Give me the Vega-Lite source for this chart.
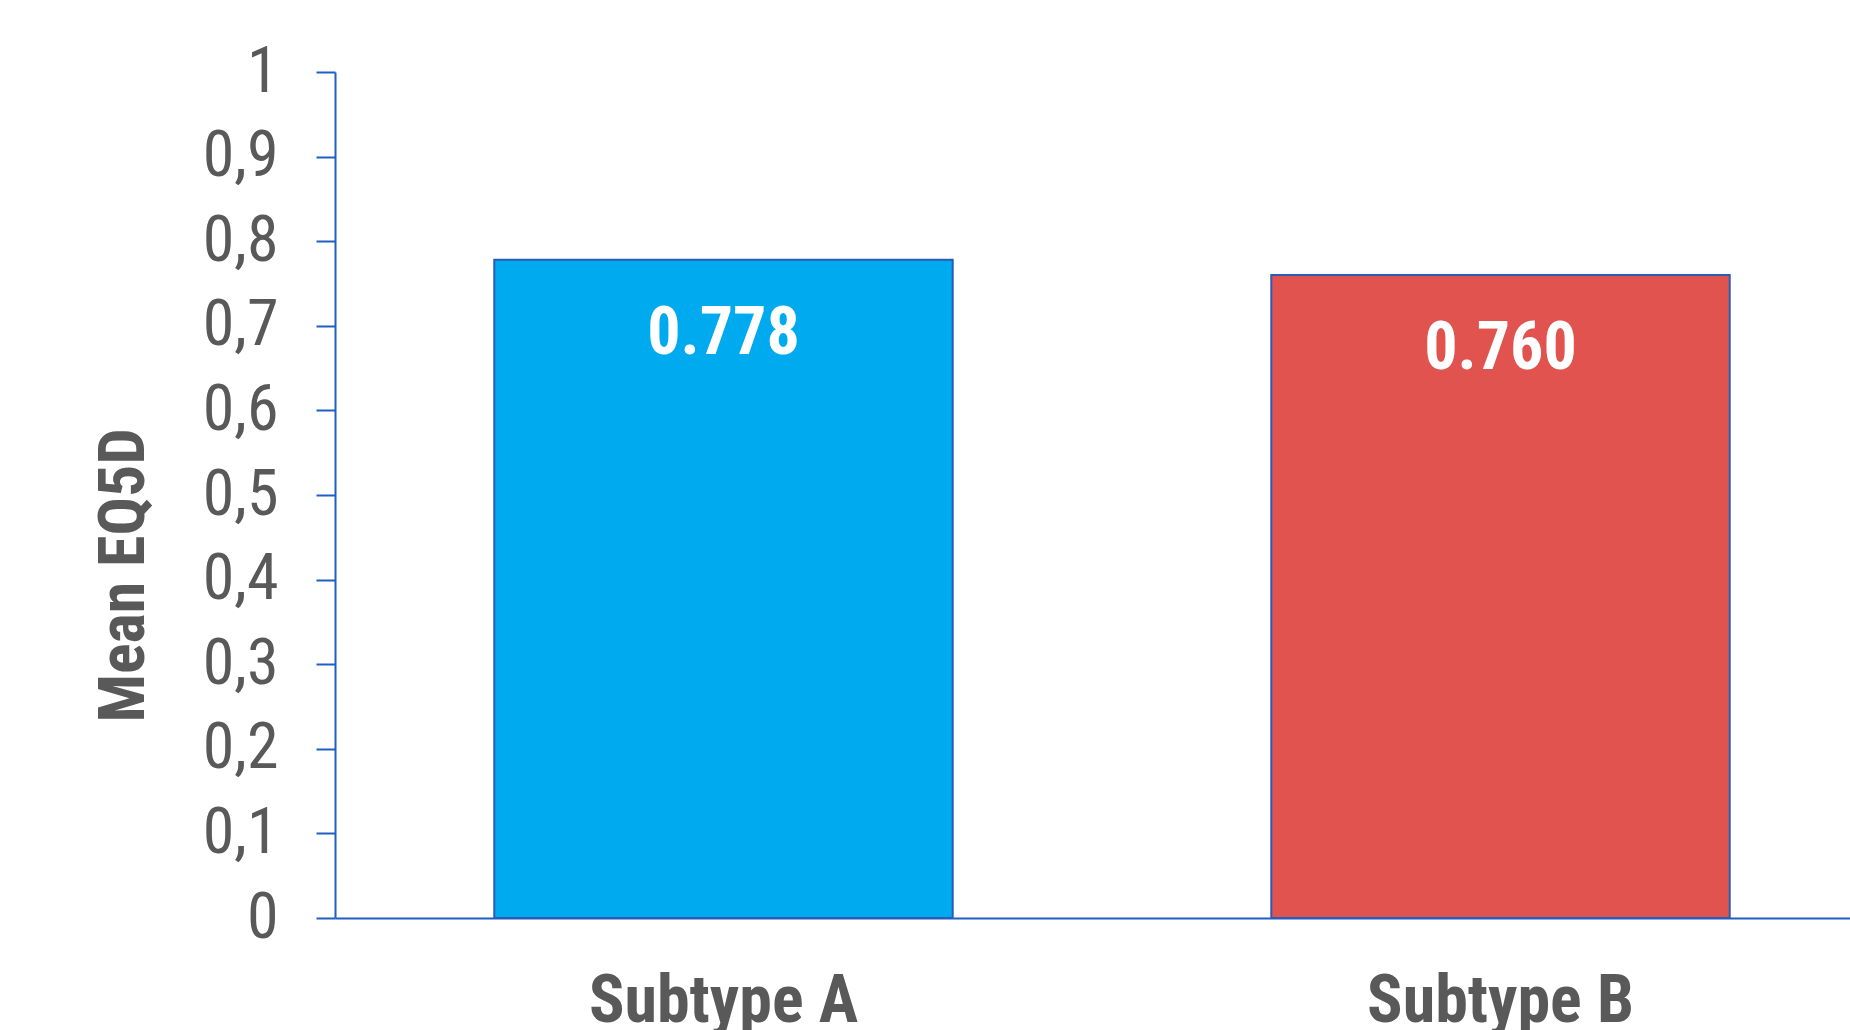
{
  "$schema": "https://vega.github.io/schema/vega-lite/v6.json",
  "autosize": {"type": "none"},
  "padding": {"left": 335, "top": 72, "right": 0, "bottom": 112},
  "width": 1515,
  "height": 846,
  "background": "white",
  "config": {
    "view": {"stroke": null},
    "font": "Roboto Condensed"
  },
  "data": {
    "values": [
      {"group": "Subtype A", "eq5d": 0.778, "label": "0.778"},
      {"group": "Subtype B", "eq5d": 0.760, "label": "0.760"}
    ]
  },
  "encoding": {
    "x": {
      "field": "group",
      "type": "nominal",
      "sort": null,
      "scale": {"range": [0, 1554], "paddingInner": 0.41, "paddingOuter": 0.205},
      "axis": {
        "title": null,
        "domainColor": "#1F5FC4",
        "domainWidth": 2,
        "ticks": false,
        "tickSize": 0,
        "labelAngle": 0,
        "labelLimit": 0,
        "labelFont": "Roboto Condensed",
        "labelFontWeight": "bold",
        "labelFontSize": 66,
        "labelColor": "#595959",
        "labelBaseline": "alphabetic",
        "labelPadding": 103
      }
    },
    "y": {
      "field": "eq5d",
      "type": "quantitative",
      "scale": {"domain": [0, 1], "nice": false, "zero": true},
      "axis": {
        "title": "Mean EQ5D",
        "values": [0, 0.1, 0.2, 0.3, 0.4, 0.5, 0.6, 0.7, 0.8, 0.9, 1],
        "format": "~g",
        "labelExpr": "replace(datum.label, '.', ',')",
        "grid": false,
        "domainColor": "#1F5FC4",
        "domainWidth": 2,
        "tickColor": "#1F5FC4",
        "tickWidth": 2,
        "tickSize": 19,
        "labelPadding": 38,
        "labelLimit": 0,
        "labelFont": "Roboto Condensed",
        "labelFontSize": 64,
        "labelColor": "#595959",
        "labelBaseline": "middle",
        "titleFont": "Roboto Condensed",
        "titleFontWeight": "bold",
        "titleFontSize": 64,
        "titleColor": "#595959",
        "titleAngle": -90,
        "titleAlign": "center",
        "titleBaseline": "alphabetic",
        "titleLimit": 0,
        "titleX": -192,
        "titleY": 503
      }
    }
  },
  "layer": [
    {
      "mark": {"type": "bar", "stroke": "#2A5BB8", "strokeWidth": 2},
      "encoding": {
        "color": {
          "field": "group",
          "type": "nominal",
          "scale": {"domain": ["Subtype A", "Subtype B"], "range": ["#00AAEE", "#E0534E"]},
          "legend": null
        }
      }
    },
    {
      "mark": {
        "type": "text",
        "baseline": "alphabetic",
        "align": "center",
        "dy": 94,
        "font": "Roboto Condensed",
        "fontWeight": "bold",
        "fontSize": 66,
        "color": "white"
      },
      "encoding": {
        "text": {"field": "label", "type": "nominal"}
      }
    }
  ]
}
